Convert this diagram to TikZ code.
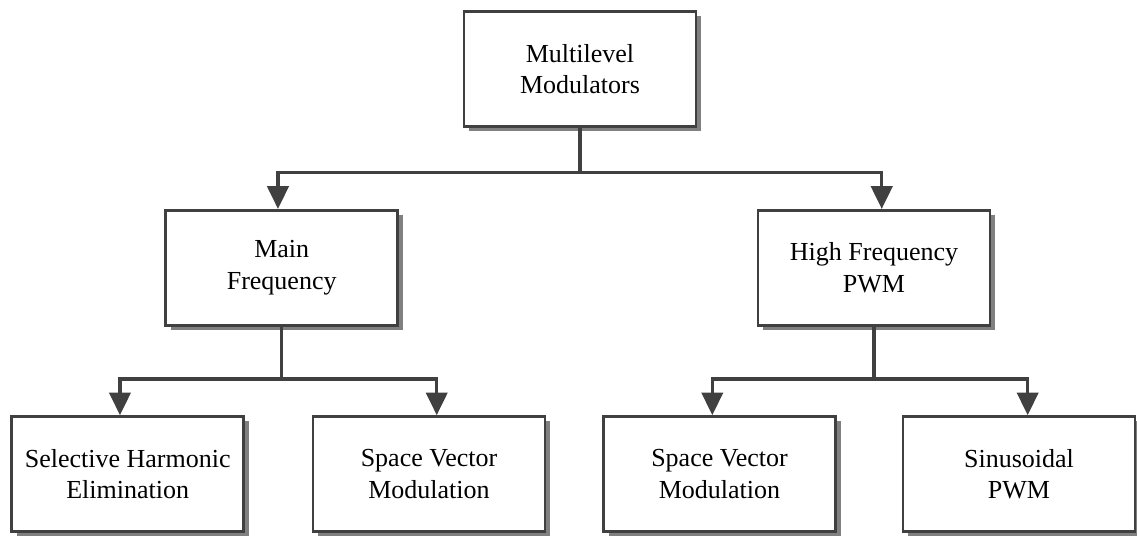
\documentclass[tikz,border=0pt]{standalone}
\usepackage{fontspec}
\setmainfont{Liberation Serif}
\usetikzlibrary{arrows.meta,shadows,calc}
\definecolor{linec}{HTML}{404040}
\tikzset{
  box/.style={draw=linec, line width=2.2pt, fill=white, minimum width=174pt, minimum height=86pt,
    align=center, inner sep=0pt, font=\fontsize{19.5}{23.3}\selectfont,
    drop shadow={shadow xshift=3.8pt, shadow yshift=-3.4pt, fill=black!50, opacity=1}},
  link/.style={draw=linec, line width=2.3pt},
  arr/.style={link, -{Triangle[width=16pt,length=17pt]}}
}
\begin{document}
\begin{tikzpicture}[x=0.75pt,y=-0.75pt]
\useasboundingbox (0,0) rectangle (1137,536);
\node[box] (top) at (580,69) {Multilevel\\Modulators};
\node[box] (main) at (281.7,267.7) {Main\\Frequency};
\node[box] (high) at (874,267.7) {High Frequency\\PWM};
\node[box] (she) at (127.7,474) {Selective Harmonic\\Elimination};
\node[box] (svm1) at (429,474) {Space Vector\\Modulation};
\node[box] (svm2) at (719.5,474) {Space Vector\\Modulation};
\node[box] (sin) at (1019,474) {Sinusoidal\\PWM};

\draw[link] (top.south) -- ++(0,45) coordinate (t1);
\draw[arr] (t1) -| ([xshift=-2.8pt]main.north);
\draw[arr] (t1) -| ([xshift=5.8pt]high.north);

\draw[link] (main.south) -- ++(0,52.5) coordinate (m1);
\draw[arr] (m1) -| ([xshift=-5.8pt]she.north);
\draw[arr] (m1) -| ([xshift=5.8pt]svm1.north);

\draw[link] (high.south) -- ++(0,52.5) coordinate (h1);
\draw[arr] (h1) -| ([xshift=-5.4pt]svm2.north);
\draw[arr] (h1) -| ([xshift=6.5pt]sin.north);
\end{tikzpicture}
\end{document}
